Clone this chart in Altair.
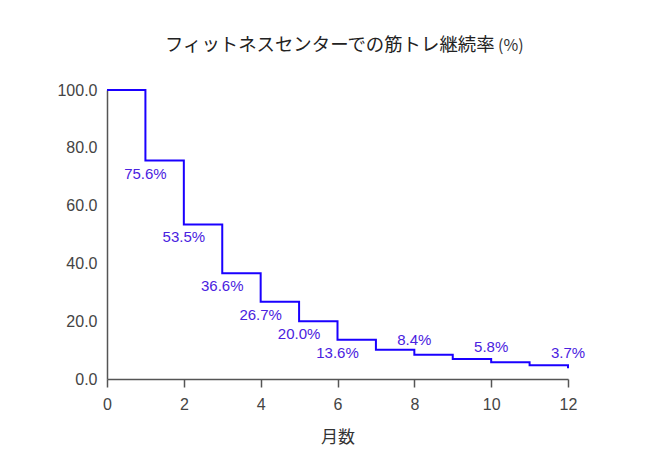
import altair as alt
import pandas as pd

months = [0, 1, 2, 3, 4, 5, 6, 7, 8, 9, 10, 11, 12]
rates = [100.0, 75.6, 53.5, 36.6, 26.7, 20.0, 13.6, 10.1, 8.4, 6.9, 5.8, 4.8, 3.7]
label_months_below = [1, 2, 3, 4, 5, 6]
label_months_above = [8, 10, 12]

df = pd.DataFrame({"month": months, "rate": rates})
df["label"] = [f"{r:.1f}%" for r in rates]
below = df[df["month"].isin(label_months_below)]
above = df[df["month"].isin(label_months_above)]

FONT = "Liberation Sans"
JP = "Noto Sans CJK JP"

x = alt.X("month:Q", scale=alt.Scale(domain=[0, 12], nice=False),
          axis=alt.Axis(values=[0, 2, 4, 6, 8, 10, 12], format="d", title="月数",
                        grid=False, tickSize=8, labelPadding=9, labelFontSize=16,
                        labelFlush=False,
                        labelFont=FONT, labelColor="#444444", titleFont=JP,
                        titleFontSize=17, titleFontWeight="normal", titleColor="#333333",
                        titlePadding=17, domainColor="#555555", tickColor="#555555",
                        domainWidth=1.5, tickWidth=1.5))
y = alt.Y("rate:Q", scale=alt.Scale(domain=[0, 100], nice=False),
          axis=alt.Axis(values=[0, 20, 40, 60, 80, 100], format=".1f", title=None,
                        grid=False, ticks=False, labelPadding=10, labelFontSize=16,
                        labelFont=FONT, labelColor="#444444", domainColor="#555555",
                        domainWidth=1.5))

line = alt.Chart(df).mark_line(interpolate="step-after", color="#1a00ff",
                               strokeWidth=2).encode(x=x, y=y)

lab_below = alt.Chart(below).mark_text(dy=13, fontSize=15, font=FONT,
                                       color="#4a22e0", align="center").encode(
    x="month:Q", y="rate:Q", text="label:N")
lab_above = alt.Chart(above).mark_text(dy=-15, fontSize=15, font=FONT,
                                       color="#4a22e0", align="center").encode(
    x="month:Q", y="rate:Q", text="label:N")

title_df = pd.DataFrame({"t": ["フィットネスセンターでの筋トレ継続率"], "u": ["(%)"]})
title_main = alt.Chart(title_df).mark_text(align="left", baseline="middle",
                                           fontSize=18.4, font=JP, color="#222222").encode(
    x=alt.value(58), y=alt.value(-45), text="t:N")
title_unit = alt.Chart(title_df).mark_text(align="left", baseline="middle",
                                           fontSize=16, font=JP, color="#333333").encode(
    x=alt.value(391), y=alt.value(-44), text="u:N")

chart = alt.layer(line, lab_below, lab_above, title_main, title_unit).properties(
    width=461, height=289,
    autosize=alt.AutoSizeParams(type="none"),
    padding={"left": 99, "top": 82, "right": 82, "bottom": 70},
).configure_view(stroke=None)

chart.save("out.html", embed_options={"renderer": "svg", "actions": False})
